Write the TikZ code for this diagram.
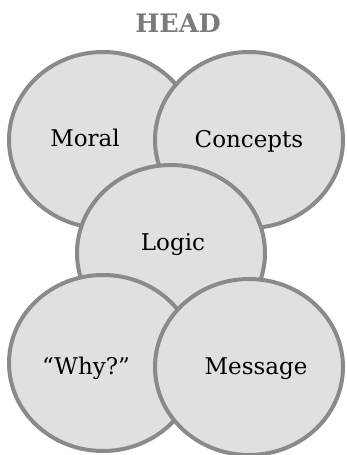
\documentclass[tikz,border=0pt]{standalone}
\usepackage{fontspec}
\setmainfont{DejaVu Serif}
\usetikzlibrary{shapes.geometric}
\usetikzlibrary{positioning}

\definecolor{rimgray}{HTML}{8A8A8A}
\definecolor{bubblegray}{HTML}{E0E0E0}
\definecolor{headgray}{HTML}{7A7A7A}

\begin{document}
\begin{tikzpicture}
		[
		x=1pt,y=1pt,
		font=\fontsize{23}{27}\selectfont
		]
		\useasboundingbox (0,0) rectangle (347,455);
		
		% Two styles: bubble and label
		\tikzstyle{bubble}=[ellipse,draw=rimgray,fill=bubblegray,line width=4pt,minimum width=188pt,minimum height=176pt,inner sep=0];
		\tikzstyle{word}=[inner sep=0,anchor=base];
		
		% Title
		\node(head)[word,font=\fontsize{25.5}{30}\selectfont\bfseries,text=headgray] at (178,422){HEAD};
		
		% Bubbles, back to front
		\node(moral)[bubble] at (103,315){};
		\node(concepts)[bubble] at (249,315){};
		\node(logic)[bubble] at (171,202){};
		\node(why)[bubble] at (103,92){};
		\node(message)[bubble] at (249,88){};
		
		% Labels
		\node(moral-l)[word] at ([xshift=-18,yshift=-7]moral.center){Moral};
		\node(concepts-l)[word] at ([yshift=-8]concepts.center){Concepts};
		\node(logic-l)[word] at ([xshift=2,yshift=2]logic.center){Logic};
		\node(why-l)[word] at ([xshift=-17,yshift=-12]why.center){“Why?”};
		\node(message-l)[word] at ([xshift=7,yshift=-8]message.center){Message};
		
\end{tikzpicture}
\end{document}
